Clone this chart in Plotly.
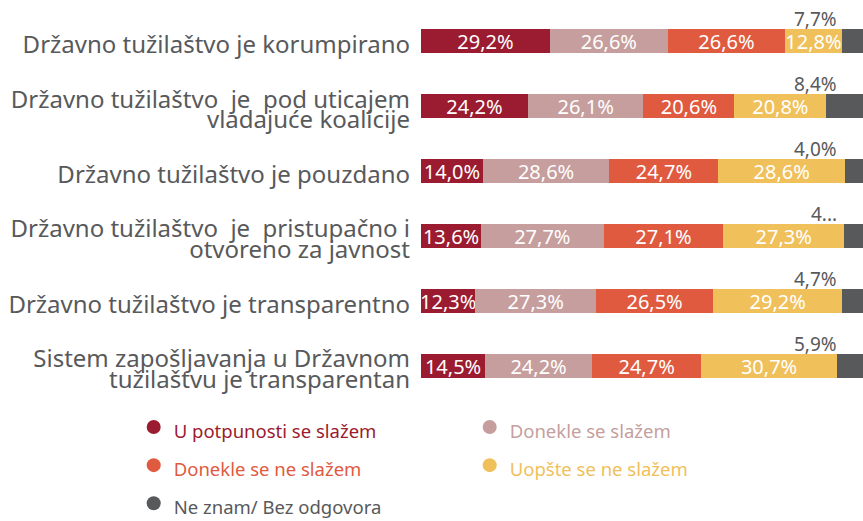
import plotly.graph_objects as go

categories = [
    'Državno tužilaštvo je korumpirano',
    'Državno tužilaštvo  je  pod uticajem<br>vladajuće koalicije',
    'Državno tužilaštvo je pouzdano',
    'Državno tužilaštvo  je  pristupačno i<br>otvoreno za javnost',
    'Državno tužilaštvo je transparentno',
    'Sistem zapošljavanja u Državnom<br>tužilaštvu je transparentan',
]

series_names = ['U potpunosti se slažem', 'Donekle se slažem', 'Donekle se ne slažem',
                'Uopšte se ne slažem', 'Ne znam/ Bez odgovora']
u_potpunosti = [29.2, 24.2, 14.0, 13.6, 12.3, 14.5]
donekle_da = [26.6, 26.1, 28.6, 27.7, 27.3, 24.2]
donekle_ne = [26.6, 20.6, 24.7, 27.1, 26.5, 24.7]
uopste_ne = [12.8, 20.8, 28.6, 27.3, 29.2, 30.7]
ne_znam = [7.7, 8.4, 4.0, 4.3, 4.7, 5.9]
ne_znam_labels = ['7,7%', '8,4%', '4,0%', '4...', '4,7%', '5,9%']

colors = ['#9B1B30', '#C59E9D', '#E05A3F', '#F0C05B', '#58595B']
FONT = 'Noto Sans'
GRAY = '#58595B'

fig = go.Figure()
values = [u_potpunosti, donekle_da, donekle_ne, uopste_ne, ne_znam]
for i, (name, vals) in enumerate(zip(series_names, values)):
    last = i == len(values) - 1
    fig.add_trace(go.Bar(
        y=categories, x=vals, orientation='h', name=name,
        marker=dict(color=colors[i], line=dict(width=0)),
        width=0.37,
        text=None if last else vals,
        texttemplate=None if last else '%{x:.1f}%',
        textposition='none' if last else 'inside',
        insidetextanchor='middle',
        textfont=dict(color='white', size=20, family=FONT),
        showlegend=False,
    ))

# legend entries with round markers and coloured text
for name, c in zip(series_names, colors):
    fig.add_trace(go.Scatter(
        x=[None], y=[None], mode='markers',
        name=f'<span style="color:{c};font-size:18.5px">{name}</span>',
        marker=dict(color=c, size=14, symbol='circle'),
    ))

# gray labels above the last segment
for cat, lab in zip(categories, ne_znam_labels):
    fig.add_annotation(x=100, y=cat, text=lab, showarrow=False, xanchor='right',
                       yanchor='bottom', xshift=-24, yshift=7,
                       font=dict(size=19, color=GRAY, family=FONT))

# big text, tight line spacing for the category labels
ticktext = ['<br>'.join(f'<span style="font-size:24px">{part}</span>' for part in c.split('<br>'))
            for c in categories]

fig.update_layout(
    barmode='stack',
    width=863, height=521,
    margin=dict(l=421, r=0, t=9, b=118, autoexpand=False),
    paper_bgcolor='white', plot_bgcolor='white',
    separators=', ',
    font=dict(family=FONT, color=GRAY),
    uniformtext=dict(minsize=20, mode='show'),
    xaxis=dict(range=[0, 100], visible=False),
    yaxis=dict(autorange='reversed', showgrid=False, ticks='', ticklabelstandoff=10,
               tickvals=categories, ticktext=ticktext, automargin=False,
               ticklabelshift=-6,
               tickfont=dict(size=16, color=GRAY, family=FONT)),
    legend=dict(orientation='h', x=-0.65, xanchor='left', y=0, yanchor='top',
                traceorder='normal', entrywidth=291, itemwidth=30,
                font=dict(size=27, family=FONT)),
)

# drop the default page margin so the figure sits at the window's corner
fig.write_html('out.html', config={'displayModeBar': False},
               post_script="document.body.style.margin='0';")
